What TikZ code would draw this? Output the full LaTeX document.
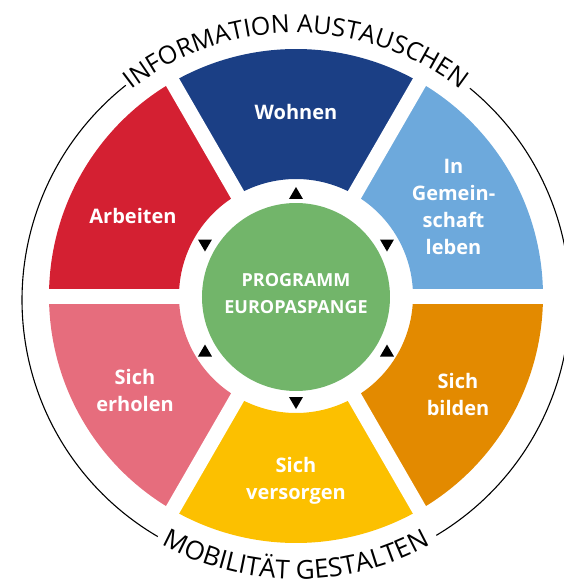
\documentclass[tikz,border=0pt]{standalone}
\usepackage{fontspec}
\setmainfont{Open Sans}
\usetikzlibrary{decorations.text}
\definecolor{cWohnen}{HTML}{1B3F85}
\definecolor{cGemein}{HTML}{6DA9DC}
\definecolor{cBilden}{HTML}{E38A00}
\definecolor{cVersorgen}{HTML}{FCC000}
\definecolor{cErholen}{HTML}{E66D7D}
\definecolor{cArbeiten}{HTML}{D42032}
\definecolor{cGreen}{HTML}{72B56A}
\tikzset{
  wedgelabel/.style={text=white, font=\fontsize{20}{27}\selectfont\bfseries, align=center, inner sep=0pt},
  centerlabel/.style={text=white, font=\fontsize{18}{27}\selectfont\bfseries, align=center, inner sep=0pt},
  ringline/.style={black, line width=1.1pt},
  gapline/.style={white, line width=15pt},
  tri/.style={fill=black}
}
\newcommand{\sectorfill}[3]{%
  \fill[#1] (#2:117) arc[start angle=#2, end angle=#3, radius=117] -- (#3:247) arc[start angle=#3, end angle=#2, radius=247] -- cycle;}
\newcommand{\triup}[2]{\fill[tri] (#1-7,#2-6) -- (#1+7,#2-6) -- (#1,#2+6) -- cycle;}
\newcommand{\tridown}[2]{\fill[tri] (#1-7,#2+6) -- (#1+7,#2+6) -- (#1,#2-6) -- cycle;}
\begin{document}
\begin{tikzpicture}[x=1pt,y=1pt]
\useasboundingbox (-296,-288) rectangle (268,296);
% sectors
\sectorfill{cGemein}{0}{60}
\sectorfill{cWohnen}{60}{120}
\sectorfill{cArbeiten}{120}{180}
\sectorfill{cErholen}{180}{240}
\sectorfill{cVersorgen}{240}{300}
\sectorfill{cBilden}{300}{360}
% white gaps
\foreach \a in {0,60,...,300} \draw[gapline] (0,0) -- (\a:262);
% central circle
\fill[cGreen] (0,-1) circle[radius=94];
\node[centerlabel] (prog) at (0,2.5) {PROGRAMM\\EUROPASPANGE};
% triangles
\triup{0}{103}
\tridown{-91}{50.5}
\tridown{91}{50.5}
\triup{-91}{-54.5}
\triup{91}{-54.5}
\tridown{0}{-107}
% labels
\node[wedgelabel] (wohnen) at (0,184) {Wohnen};
\node[wedgelabel] (gemein) at (157.5,89.5) {In\\Gemein-\\schaft\\leben};
\node[wedgelabel] (bilden) at (162,-98) {Sich\\bilden};
\node[wedgelabel] (versorgen) at (0,-185) {Sich\\versorgen};
\node[wedgelabel] (erholen) at (-161,-94) {Sich\\erholen};
\node[wedgelabel] (arbeiten) at (-163,80) {Arbeiten};
% outer ring
\draw[ringline] (0,-4) ++(128.4:274) arc[start angle=128.4, end angle=239.7, radius=274];
\draw[ringline] (0,-4) ++(300.8:274) arc[start angle=300.8, end angle=410.6, radius=274];
\path[decorate, decoration={text along path, text align=center,
  text={|\fontsize{25}{25}\selectfont|INFORMATION AUSTAUSCHEN}}]
  (0,-4) ++(150:267) arc[start angle=150, end angle=30, radius=267];
\path[decorate, decoration={text along path, text align=center,
  text={|\fontsize{26}{26}\selectfont|MOBILITÄT GESTALTEN}}]
  (0,-4) ++(210:279) arc[start angle=210, end angle=330, radius=279];
\end{tikzpicture}
\end{document}
